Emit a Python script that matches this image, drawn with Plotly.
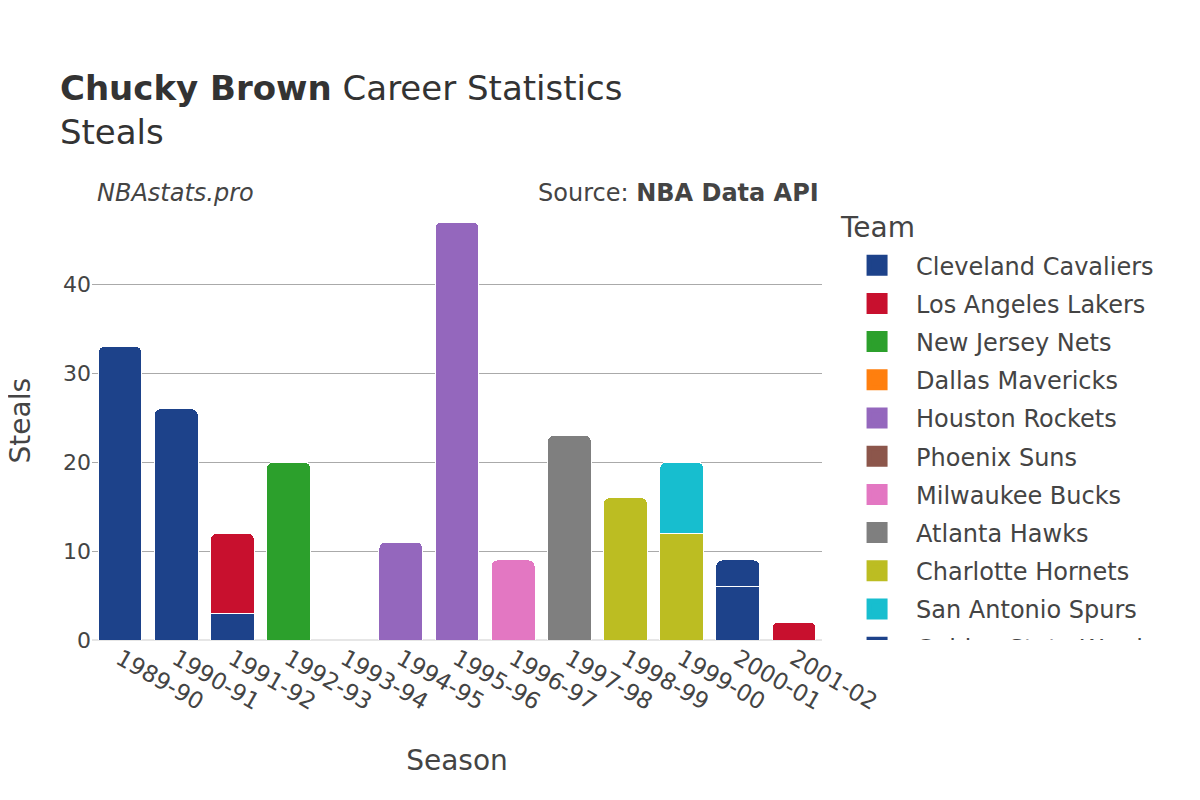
import plotly.graph_objects as go

seasons = ["1989-90", "1990-91", "1991-92", "1992-93", "1993-94", "1994-95", "1995-96",
           "1996-97", "1997-98", "1998-99", "1999-00", "2000-01", "2001-02"]

teams = ["Cleveland Cavaliers", "Los Angeles Lakers", "New Jersey Nets", "Dallas Mavericks",
         "Houston Rockets", "Phoenix Suns", "Milwaukee Bucks", "Atlanta Hawks",
         "Charlotte Hornets", "San Antonio Spurs", "Golden State Warriors", "Sacramento Kings"]

team_colors = ["#1d428a", "#c8102e", "#2ca02c", "#ff7f0e", "#9467bd", "#8c564b",
               "#e377c2", "#7f7f7f", "#bcbd22", "#17becf", "#1d428a", "#c8102e"]

# steals per team: season -> value
cavaliers = {"1989-90": 33, "1990-91": 26, "1991-92": 3, "2000-01": 6}
lakers = {"1991-92": 9}
nets = {"1992-93": 20}
mavericks = {"1993-94": 0}
rockets = {"1994-95": 11, "1995-96": 47}
suns = {"1996-97": 0}
bucks = {"1996-97": 9}
hawks = {"1997-98": 23}
hornets = {"1998-99": 16, "1999-00": 12}
spurs = {"1999-00": 8}
warriors = {"2000-01": 3}
kings = {"2001-02": 2}

team_data = [cavaliers, lakers, nets, mavericks, rockets, suns, bucks, hawks,
             hornets, spurs, warriors, kings]

FONT = "DejaVu Sans"
fig = go.Figure()
for name, color, data in zip(teams, team_colors, team_data):
    fig.add_trace(go.Bar(
        name=name,
        legendgroup=name,
        showlegend=False,
        x=list(data.keys()),
        y=list(data.values()),
        marker=dict(color=color, line=dict(color="#ffffff", width=1)),
    ))

# legend-only entries with larger square swatches
for name, color in zip(teams, team_colors):
    fig.add_trace(go.Scatter(
        name=name,
        legendgroup=name,
        x=[None], y=[None],
        mode="markers",
        marker=dict(symbol="square", size=16, color=color,
                    line=dict(color=color, width=5)),
        hoverinfo="skip",
    ))

fig.update_layout(
    width=1200, height=800,
    barmode="stack",
    bargap=0.22,
    barcornerradius=6,
    plot_bgcolor="white",
    paper_bgcolor="white",
    font=dict(family=FONT, color="#444", size=22),
    margin=dict(l=84, r=386, t=192, b=168),
    title=dict(
        text="<b>Chucky Brown</b> Career Statistics<br>Steals",
        x=0.0433, xanchor="left", y=0.885, yanchor="top",
        font=dict(family=FONT, size=34, color="#333"),
    ),
    xaxis=dict(
        type="category",
        automargin=False,
        title=dict(text="Season", font=dict(size=28), standoff=36),
        categoryorder="array", categoryarray=seasons,
        tickangle=30, tickfont=dict(size=23),
        showgrid=False, showline=False, ticks="",
    ),
    yaxis=dict(
        automargin=False,
        tickfont=dict(size=22),
        showgrid=True, gridcolor="#aaaaaa", gridwidth=1,
        zeroline=True, zerolinecolor="#e6e6e6", zerolinewidth=2,
        ticks="", dtick=10,
    ),
    legend=dict(
        font=dict(size=24),
        x=1.022, xanchor="left", y=0.902, yanchor="top",
        traceorder="grouped",
        tracegroupgap=4,
        itemwidth=68,
        maxheight=397,
    ),
    annotations=[
        dict(text="<i>NBAstats.pro</i>", x=0.0, xref="paper", xanchor="left",
             y=1.0, yref="paper", yanchor="bottom", showarrow=False,
             font=dict(size=24, color="#444"), xshift=3, yshift=-9),
        dict(text="Source: <b>NBA Data API</b>", x=1.0, xref="paper", xanchor="right",
             y=1.0, yref="paper", yanchor="bottom", showarrow=False,
             font=dict(size=24, color="#444"), xshift=-1, yshift=-9),
        dict(text="Team", x=1.0219, xref="paper", xanchor="left",
             y=0.9386, yref="paper", yanchor="middle", showarrow=False,
             font=dict(size=28, color="#444")),
        dict(text="Steals", x=-0.098, xref="paper", xanchor="center",
             y=0.5, yref="paper", yanchor="middle", showarrow=False,
             textangle=-90, font=dict(size=28, color="#444")),
    ],
)

fig.write_html("out.html", config={"staticPlot": True})
